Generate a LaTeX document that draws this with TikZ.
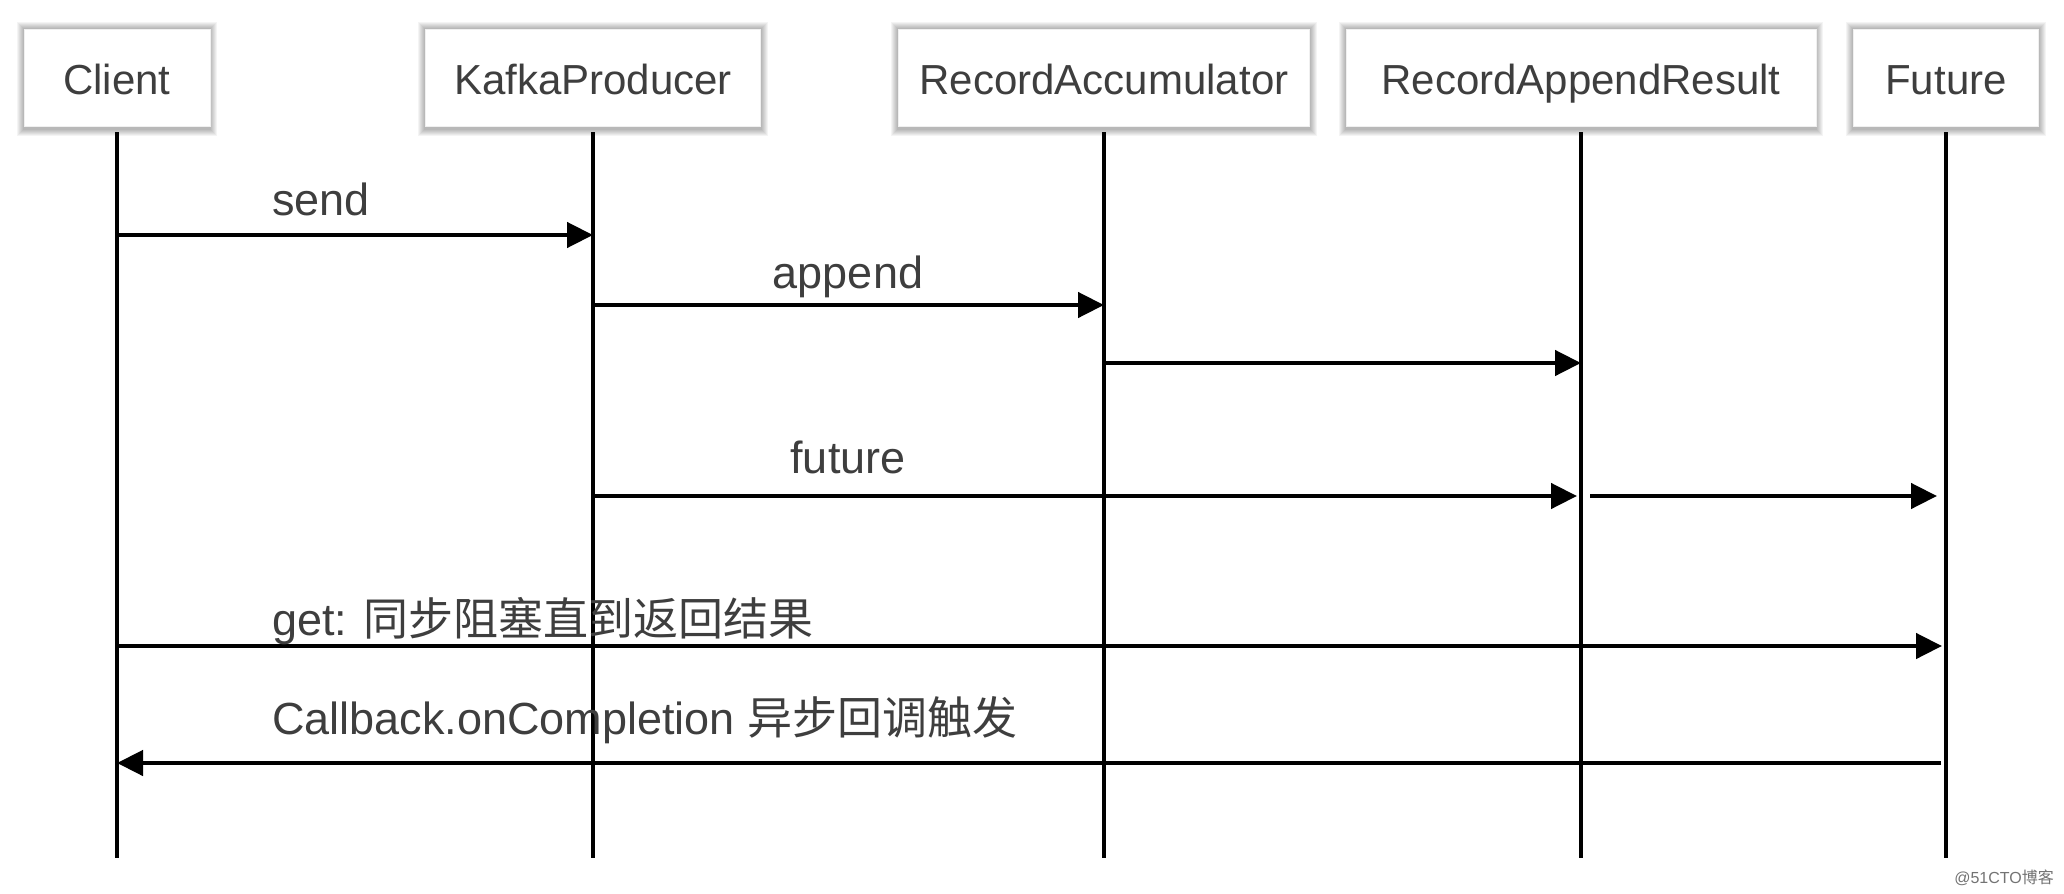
\documentclass[tikz,border=0pt]{standalone}
\usepackage{fontspec}
\setmainfont{Liberation Sans}
\newfontfamily\cjk{Noto Sans CJK SC}
\usetikzlibrary{arrows.meta,backgrounds,calc}
\definecolor{txt}{HTML}{3E3E3E}
\begin{document}
\begin{tikzpicture}[x=1pt,y=-1pt,
  actor/.style={draw=black!6, line width=0.6pt, fill=white, minimum height=97pt, inner sep=0pt,
    text height=34pt, text depth=0pt, font=\fontsize{42}{50}\selectfont, text=txt},
  life/.style={line width=3.6pt, black},
  msg/.style={line width=4.5pt, black, -{Triangle[length=26pt,width=25pt]}},
  lbl/.style={font=\fontsize{45}{52}\selectfont, text=txt, inner sep=0pt}
]
\useasboundingbox (0,0) rectangle (2064,894);

% participants
\node[actor, minimum width=186pt] (client) at (117,77.5) {Client};
\node[actor, minimum width=335pt] (kp)     at (593,77.5) {KafkaProducer};
\node[actor, minimum width=411pt] (ra)     at (1104,77.5) {RecordAccumulator};
\node[actor, minimum width=470pt] (rar)    at (1581,77.5) {RecordAppendResult};
\node[actor, minimum width=185pt] (fut)    at (1946,77.5) {Future};

% lifelines
\foreach \n in {client,kp,ra,rar,fut}{
  \coordinate (\n-end) at (\n.south |- 0,858);
  \draw[life] ([yshift=-6pt]\n.south) -- (\n-end);
}

% messages
\draw[msg] (client |- 0,235) -- (kp |- 0,235);
\node[lbl, anchor=base] (lsend) at (321,215) {send};

\draw[msg] (kp |- 0,305) -- (ra |- 0,305);
\node[lbl, anchor=base] (lappend) at (848,288) {append};

\draw[msg] (ra |- 0,363) -- (rar |- 0,363);

\draw[msg] (kp |- 0,496) -- ($(rar |- 0,496)+(-4pt,0)$);
\node[lbl, anchor=base] (lfuture) at (848,473) {future};
\draw[msg] ($(rar |- 0,496)+(9pt,0)$) -- ($(fut |- 0,496)+(-9pt,0)$);

\draw[msg] (client |- 0,646) -- ($(fut |- 0,646)+(-4pt,0)$);
\node[lbl, anchor=base west] (lget) at (272,635) {get: {\cjk 同步阻塞直到返回结果}};

\draw[msg] ($(fut |- 0,763)+(-5pt,0)$) -- (client |- 0,763);
\node[lbl, anchor=base west] (lcb) at (272,734) {Callback.onCompletion {\cjk 异步回调触发}};

% watermark
\node[font=\fontsize{16}{18}\selectfont, text=black!55, anchor=east, inner sep=0pt] (wm) at (2054,878) {@51CTO{\cjk 博客}};

% background and shadows
\begin{scope}[on background layer]
  \fill[white] (0,0) rectangle (2064,894);
  \foreach \n in {client,kp,ra,rar,fut}{
    \foreach \d in {1,2,...,7}{
      \fill[black,opacity=0.045] ([xshift=-\d pt, yshift=\d pt]\n.north west)
        rectangle ([xshift=\d pt, yshift=-\d pt-3pt]\n.south east);
    }
  }
\end{scope}
\end{tikzpicture}
\end{document}
